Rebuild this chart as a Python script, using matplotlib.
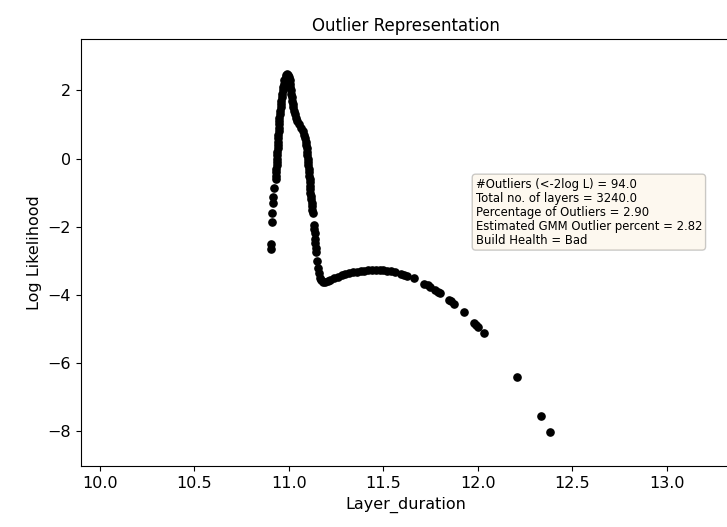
"""Outlier Representation: log likelihood of each layer duration."""

import matplotlib

matplotlib.use("Agg")
import matplotlib.pyplot as plt
import numpy as np

# rising side of the peak
RISE_X = [10.905, 10.905, 10.914, 10.914, 10.916, 10.919, 10.921,
          10.932, 10.933, 10.934, 10.935, 10.936, 10.937, 10.938, 10.939,
          10.940, 10.941, 10.942, 10.943, 10.944, 10.945, 10.946, 10.947,
          10.948, 10.949, 10.951, 10.953, 10.955, 10.957, 10.959, 10.961,
          10.963, 10.965, 10.967, 10.970, 10.973, 10.977, 10.983, 10.988,
          10.993]
RISE_Y = [-2.66, -2.52, -1.87, -1.61, -1.31, -1.14, -0.87,
          -0.60, -0.50, -0.40, -0.30, -0.20, -0.10, 0.00, 0.10,
          0.20, 0.30, 0.40, 0.50, 0.60, 0.70, 0.80, 0.90,
          1.00, 1.10, 1.20, 1.30, 1.40, 1.50, 1.60, 1.70,
          1.80, 1.90, 2.00, 2.10, 2.20, 2.30, 2.40, 2.46,
          2.48]

# falling side of the peak down to the dip
FALL_X = [10.998, 11.002, 11.005, 11.007, 11.009, 11.011, 11.012, 11.015,
          11.018, 11.021, 11.024, 11.027, 11.031, 11.037, 11.044, 11.052,
          11.063, 11.075, 11.082, 11.086, 11.089, 11.092, 11.095, 11.097,
          11.099, 11.101, 11.102, 11.104, 11.105, 11.107, 11.108, 11.110,
          11.111, 11.112, 11.113, 11.115, 11.117, 11.119, 11.121, 11.122,
          11.124, 11.126, 11.134, 11.136, 11.138, 11.140, 11.141, 11.143,
          11.146, 11.151, 11.155, 11.160, 11.165, 11.172, 11.182, 11.192,
          11.205]
FALL_Y = [2.45, 2.40, 2.30, 2.20, 2.10, 2.00, 1.90, 1.80,
          1.70, 1.60, 1.50, 1.40, 1.30, 1.20, 1.10, 1.00,
          0.90, 0.80, 0.70, 0.60, 0.50, 0.40, 0.30, 0.20,
          0.10, 0.00, -0.10, -0.20, -0.30, -0.40, -0.50, -0.60,
          -0.70, -0.80, -0.90, -1.00, -1.10, -1.20, -1.30, -1.40,
          -1.50, -1.60, -1.95, -2.08, -2.20, -2.35, -2.48, -2.62,
          -2.75, -3.00, -3.20, -3.35, -3.50, -3.58, -3.62, -3.63,
          -3.60]

# second hump and the tail
TAIL_X = [11.22, 11.24, 11.26, 11.28, 11.30, 11.32, 11.34, 11.36, 11.38,
          11.40, 11.42, 11.44, 11.46, 11.48, 11.50, 11.52, 11.54, 11.56,
          11.595, 11.610, 11.628, 11.664, 11.717, 11.735, 11.749, 11.775,
          11.790, 11.802, 11.846, 11.858, 11.872, 11.925, 11.978, 11.990,
          11.999, 12.035, 12.208, 12.335, 12.381]
TAIL_Y = [-3.56, -3.51, -3.47, -3.43, -3.40, -3.37, -3.34, -3.32, -3.30,
          -3.29, -3.28, -3.27, -3.27, -3.27, -3.28, -3.29, -3.31, -3.33,
          -3.39, -3.42, -3.45, -3.52, -3.67, -3.72, -3.77, -3.86,
          -3.92, -3.96, -4.14, -4.19, -4.26, -4.50, -4.82, -4.88,
          -4.94, -5.13, -6.41, -7.55, -8.02]

N_OUTLIERS = 94.0
N_LAYERS = 3240.0
PCT_OUTLIERS = 2.90
GMM_PCT = 2.82
HEALTH = "Bad"


def main():
    x = np.concatenate([RISE_X, FALL_X, TAIL_X])
    y = np.concatenate([RISE_Y, FALL_Y, TAIL_Y])

    fig = plt.figure(figsize=(7.27, 5.27), dpi=100)
    ax = fig.add_axes([0.1114, 0.1157, 0.893, 0.810])
    ax.scatter(x, y, s=27, color="black", zorder=3)

    ax.set_xlim(9.901, 13.335)
    ax.set_ylim(-9.03, 3.506)
    ax.set_xticks([10.0, 10.5, 11.0, 11.5, 12.0, 12.5, 13.0])
    ax.set_yticks([2, 0, -2, -4, -6, -8])
    ax.tick_params(labelsize=11.5)
    ax.set_xlabel("Layer_duration", fontsize=11.5)
    ax.set_ylabel("Log Likelihood", fontsize=11.5)
    ax.set_title("Outlier Representation", fontsize=12)

    text = "\n".join([
        f"#Outliers (<-2log L) = {N_OUTLIERS:.1f}",
        f"Total no. of layers = {N_LAYERS:.1f}",
        f"Percentage of Outliers = {PCT_OUTLIERS:.2f}",
        f"Estimated GMM Outlier percent = {GMM_PCT:.2f}",
        f"Build Health = {HEALTH}",
    ])
    ax.text(0.608, 0.6756, text, transform=ax.transAxes, fontsize=8.4,
            va="top", ha="left", linespacing=1.1,
            bbox=dict(boxstyle="round", facecolor="wheat", alpha=0.2))

    fig.savefig("out.png", dpi=100)
    plt.close(fig)


if __name__ == "__main__":
    main()
